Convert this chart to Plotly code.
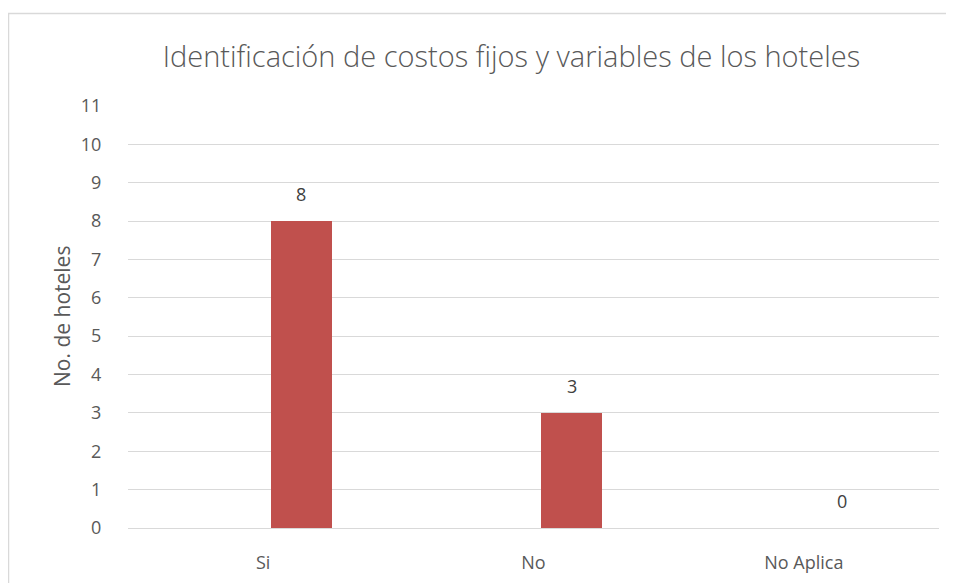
import plotly.graph_objects as go

categorias = ["Si", "No", "No Aplica"]
hoteles = [8, 3, 0]

titulo = "Identificación de costos fijos y variables de los hoteles"
eje_y = "No. de hoteles"

# la página tiene 8px de margen en el body: las medidas van en coordenadas de la figura
W, H = 954, 583
L, R, T, B = 120, 23, 98, 63
pw, ph = W - L - R, H - T - B

fig = go.Figure()
fig.add_trace(
    go.Bar(
        x=categorias,
        y=hoteles,
        marker=dict(color="#c0504d", line=dict(width=0)),
        offset=0.029,
        width=0.226,
        hoverinfo="skip",
    )
)

# etiquetas de datos encima de cada barra
for c, v in zip(categorias, hoteles):
    fig.add_annotation(
        x=c, y=v, text=str(v), showarrow=False,
        xshift=38, yshift=27,
        font=dict(size=18, color="#404040"),
    )

# título del eje y
fig.add_annotation(
    text=eje_y, xref="paper", yref="paper",
    x=(54 - L) / pw, y=0.5, textangle=-90, showarrow=False,
    xanchor="center", yanchor="middle",
    font=dict(size=21, color="#595959"),
)

# borde del área del gráfico
fig.add_shape(
    type="rect", xref="paper", yref="paper",
    x0=(0.5 - L) / pw, x1=(960 - L) / pw,
    y0=(H - B - 600) / ph, y1=(H - B - 5.5) / ph,
    line=dict(color="#d9d9d9", width=1.5),
)

fig.update_layout(
    width=W, height=H,
    margin=dict(l=L, r=R, t=T, b=B),
    paper_bgcolor="white", plot_bgcolor="white",
    font=dict(family="Open Sans", color="#595959", size=18),
    showlegend=False,
    title=dict(
        text=titulo, x=503.5 / W, xanchor="center",
        y=1 - 49 / H, yanchor="middle",
        font=dict(size=29, color="#595959", weight=300),
    ),
    bargap=0,
)
fig.update_yaxes(
    range=[0, 11], dtick=1, showgrid=True, gridcolor="#d9d9d9", gridwidth=1,
    zeroline=False, showline=False,
    ticks="outside", ticklen=22, tickcolor="rgba(0,0,0,0)",
)
fig.update_xaxes(
    showgrid=False, showline=True, linecolor="#d9d9d9", linewidth=1,
    ticks="outside", ticklen=18, tickcolor="rgba(0,0,0,0)",
)

fig.write_html("out.html")
